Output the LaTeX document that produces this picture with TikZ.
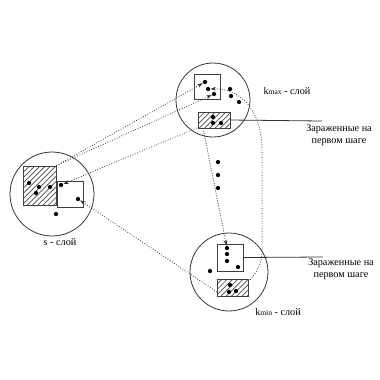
\documentclass[tikz,border=0pt]{standalone}
\usepackage{fontspec}
\setmainfont{Liberation Serif}
\usetikzlibrary{patterns,arrows.meta}
\tikzset{
  layer/.style={circle, draw=black!80, line width=0.45pt, inner sep=0pt},
  plainbox/.style={draw=black!75, line width=0.45pt, inner sep=0pt},
  hatchbox/.style={draw=black!75, line width=0.45pt, inner sep=0pt, pattern=north east lines, pattern color=black!70},
  pt/.style={circle, fill=black, inner sep=0pt, minimum size=0.085cm},
  link/.style={densely dotted, line width=0.45pt, black!80, -{Stealth[length=3.2pt,width=2.2pt]}},
  lead/.style={line width=0.45pt, black!80},
  lbl/.style={font=\fontsize{5.8}{6.6}\selectfont, align=center, inner sep=0pt},
}
\newcommand{\subsm}[1]{{\fontsize{4.3}{5}\selectfont #1}}
\begin{document}
\begin{tikzpicture}[x=0.02cm, y=-0.02cm]
\useasboundingbox (0,0) rectangle (380,380);
% circles
\node[layer, minimum size=1.68cm] (S) at (52,194) {};
\node[layer, minimum size=1.48cm] (T) at (213,100) {};
\node[layer, minimum size=1.56cm] (B) at (229,272) {};
% left layer
\node[hatchbox, minimum width=0.66cm, minimum height=0.78cm] (LH) at (39.5,185.5) {};
\node[plainbox, minimum width=0.52cm, minimum height=0.52cm] (LP) at (70,194) {};
\node[pt] (s1) at (29,183) {};
\node[pt] (s2) at (39,187) {};
\node[pt] (s3) at (36,193) {};
\node[pt] (s4) at (50,187) {};
\node[pt] (s5) at (61,185) {};
\node[pt] (s6) at (78,199) {};
\node[pt] (s7) at (56,214) {};
% top layer
\node[plainbox, minimum width=0.52cm, minimum height=0.50cm] (TB) at (207,86.5) {};
\node[hatchbox, minimum width=0.64cm, minimum height=0.32cm] (TH) at (214,120) {};
\node[pt] (t1) at (205,82) {};
\node[pt] (t2) at (208,89) {};
\node[pt] (t3) at (214,94) {};
\node[pt] (t4) at (230,89) {};
\node[pt] (t5) at (231,96) {};
\node[pt] (t6) at (239,102) {};
\node[pt] (t7) at (213,117) {};
\node[pt] (t8) at (213,123) {};
\node[pt] (t9) at (221,123) {};
% bottom layer
\node[plainbox, minimum width=0.52cm, minimum height=0.54cm] (BB) at (230,257.5) {};
\node[hatchbox, minimum width=0.62cm, minimum height=0.34cm] (BH) at (232.5,287.5) {};
\node[pt] (b1) at (227,248) {};
\node[pt] (b2) at (227,254) {};
\node[pt] (b3) at (227,261) {};
\node[pt] (b4) at (238,267) {};
\node[pt] (b5) at (210,271) {};
\node[pt] (b6) at (230,285) {};
\node[pt] (b7) at (229,292) {};
\node[pt] (b8) at (236,291) {};
% ellipsis dots
\node[pt] (e1) at (218,162) {};
\node[pt] (e2) at (218,175) {};
\node[pt] (e3) at (218,188) {};
% connectors
\coordinate (THsw) at (199,127);
\coordinate (THs) at (203,128);
\coordinate (BHw) at (217,292);
\draw[link] (LH.north east) -- (t1);
\draw[link] (LH.north east) -- (t3);
\draw[link] (THsw) -- (s5);
\draw[link] (THs) -- (b1);
\draw[link] (BHw) -- (s6);
\draw[link] ([yshift=0.12cm]BH.east) .. controls (258,272) and (262,262) .. (262,250) -- (262,150) .. controls (262,110) and (240,88) .. (t2);
% leaders and labels
\coordinate (L1) at (322,121);
\coordinate (L2) at (323,257);
\draw[lead] (TH.east) -- (L1);
\draw[lead] (BB.east) -- (L2);
\node[lbl] (lab1) at (339,135) {Зараженные на\\первом шаге};
\node[lbl] (lab2) at (341,269) {Зараженные на\\первом шаге};
\node[lbl] (kmax) at (287,91) {k\subsm{max} - слой};
\node[lbl] (kmin) at (278,312) {k\subsm{min} - слой};
\node[lbl] (slab) at (60,242) {s - слой};
\end{tikzpicture}
\end{document}
